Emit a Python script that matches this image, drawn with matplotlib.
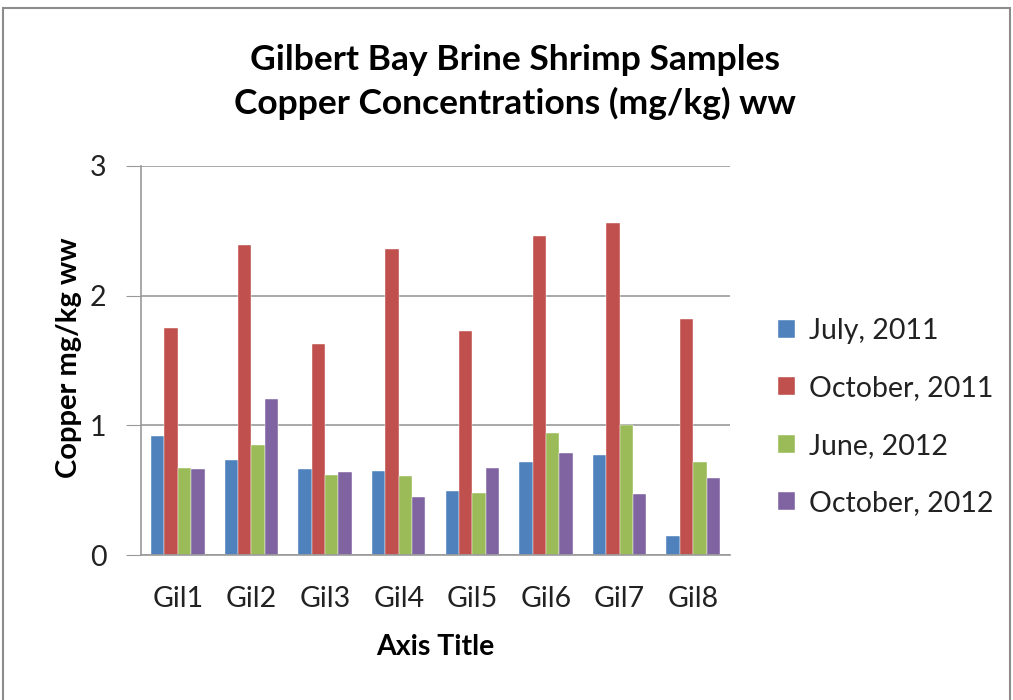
import numpy as np
import matplotlib.pyplot as plt
from matplotlib.patches import Rectangle

plt.rcParams['font.family'] = ['Lato', 'DejaVu Sans']

# Data
sites = ["Gil1", "Gil2", "Gil3", "Gil4", "Gil5", "Gil6", "Gil7", "Gil8"]
jul_2011 = [0.92, 0.73, 0.66, 0.65, 0.49, 0.72, 0.77, 0.15]
oct_2011 = [1.75, 2.39, 1.63, 2.36, 1.73, 2.46, 2.56, 1.82]
jun_2012 = [0.67, 0.85, 0.62, 0.61, 0.48, 0.94, 1.00, 0.72]
oct_2012 = [0.66, 1.20, 0.64, 0.45, 0.67, 0.79, 0.47, 0.59]
series_names = ["July, 2011", "October, 2011", "June, 2012", "October, 2012"]
colors = ["#4F81BD", "#C0504D", "#9BBB59", "#8064A2"]

fig = plt.figure(figsize=(10.13, 7), dpi=100)
ax = fig.add_axes([141/1013, 145/700, 589/1013, 389/700])

# outer chart border
fig.patches.append(Rectangle((3/1013, -0.05), 1007/1013, 1.05 - 8/700,
                             transform=fig.transFigure, fill=False,
                             edgecolor="#8c8c8c", linewidth=1.5))

x = np.arange(len(sites))
w = 0.727 / 4
series = [jul_2011, oct_2011, jun_2012, oct_2012]
for i, (vals, name, c) in enumerate(zip(series, series_names, colors)):
    ax.bar(x + (i - 1.5) * w, vals, width=w, color=c, label=name,
           edgecolor="white", linewidth=0.3)

ax.set_xlim(-0.5, len(sites) - 0.5)
ax.set_ylim(0, 3)
ax.set_yticks([0, 1, 2, 3])
ax.set_xticks(x)
ax.set_xticklabels(sites, fontsize=20.5, color="#222222")
ax.tick_params(axis="y", labelsize=20.5, labelcolor="#222222", length=11,
               color="#999999", pad=14)
ax.tick_params(axis="x", length=0, pad=22)

ax.grid(axis="y", color="#999999", linewidth=1.2)
ax.set_axisbelow(True)
for s in ["top", "right"]:
    ax.spines[s].set_visible(False)
for s in ["left", "bottom"]:
    ax.spines[s].set_color("#999999")
    ax.spines[s].set_linewidth(1.2)

# y axis title placed directly
fig.text(69/1013, 1 - 358/700, "Copper mg/kg ww", rotation=90,
         ha="center", va="center", fontsize=21, fontweight="bold")
ax.set_xlabel("Axis Title", fontsize=20.5, fontweight="bold", labelpad=16)

fig.text(515/1013, 1 - 82/700, "Gilbert Bay Brine Shrimp Samples\nCopper Concentrations (mg/kg) ww",
         ha="center", va="center", fontsize=25.5, fontweight="bold",
         linespacing=1.4)

leg = ax.legend(loc="center left", bbox_to_anchor=(752/1013, 1 - 417/700),
                bbox_transform=fig.transFigure, frameon=False, fontsize=20.5,
                handlelength=0.6, handleheight=0.6, handletextpad=0.5,
                labelspacing=1.1)
for t in leg.get_texts():
    t.set_color("#222222")

plt.savefig("out.png", dpi=100)
